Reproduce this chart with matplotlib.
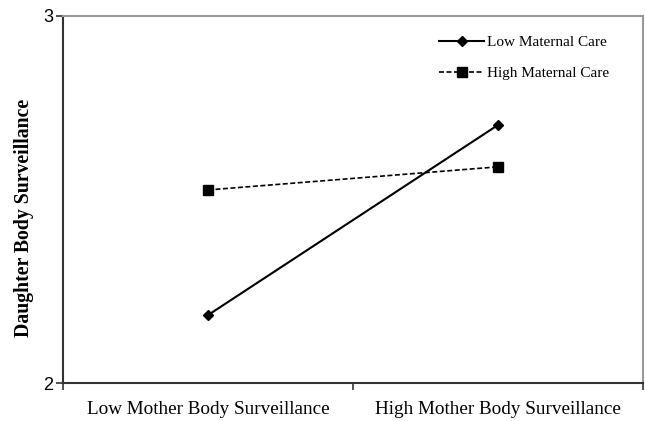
import matplotlib
matplotlib.use("Agg")
import matplotlib.pyplot as plt
import numpy as np

categories = ["Low Mother Body Surveillance", "High Mother Body Surveillance"]
low_care = [2.185, 2.703]
high_care = [2.526, 2.589]

fig = plt.figure(figsize=(6.45, 4.21), dpi=100)
ax = fig.add_axes([63/645, 38/421, 580/645, 367/421])

x = np.array([0.5, 1.5])
ax.plot(x, low_care, color="black", lw=1.5, marker="D", ms=5, label="Low Maternal Care")
ax.plot(x, high_care, color="black", lw=1.2, ls=(0, (3, 1.5)), marker="s", ms=7, label="High Maternal Care")

ax.set_xlim(0, 2)
ax.set_ylim(2, 3)
ax.set_yticks([2, 3])
ax.set_yticklabels(["2", "3"], family="Liberation Sans", fontsize=13)
ax.set_xticks([0, 1, 2])
ax.set_xticklabels([])
ax.set_xticks(x, minor=True)
ax.set_xticklabels(categories, minor=True, family="Liberation Serif", fontsize=13.8)
ax.tick_params(axis="x", which="minor", length=0, pad=13)
ax.tick_params(axis="x", which="major", length=5, width=1.2, color="#333333")
ax.tick_params(axis="y", length=5, width=1.2, color="#333333", pad=2)

for s in ["top", "right"]:
    ax.spines[s].set_color("#999999")
    ax.spines[s].set_linewidth(1.5)
for s in ["left", "bottom"]:
    ax.spines[s].set_color("#333333")
    ax.spines[s].set_linewidth(1.5)

ax.set_ylabel("Daughter Body Surveillance", family="Liberation Serif", fontsize=14.2,
              fontweight="bold")
ax.yaxis.set_label_coords(-0.05, 0.45)

leg = ax.legend(loc="upper right", bbox_to_anchor=(0.965, 0.985), frameon=False,
                prop={"family": "Liberation Serif", "size": 11}, handlelength=2.9,
                labelspacing=1.15, handletextpad=0.2)

fig.savefig("out.png", dpi=100)
